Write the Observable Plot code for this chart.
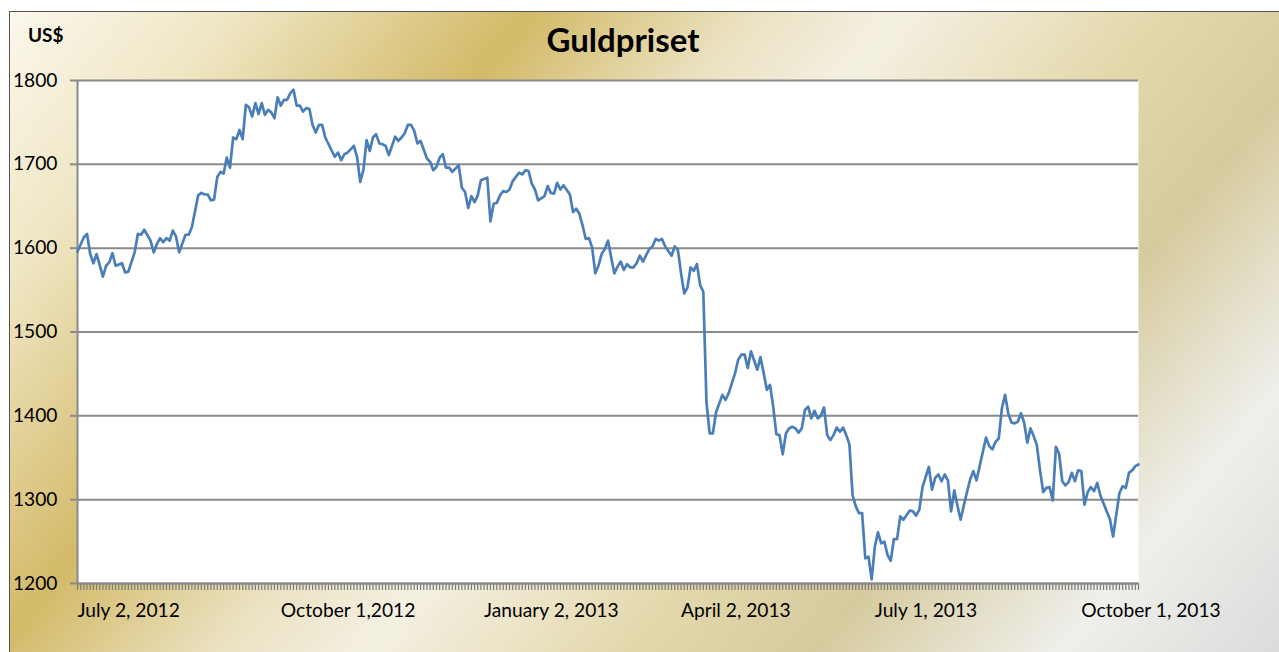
<!DOCTYPE html>
<html><head><meta charset="utf-8">
<script src="https://cdn.jsdelivr.net/npm/d3@7"></script>
<script src="https://cdn.jsdelivr.net/npm/@observablehq/plot@0.6"></script>
<style>
html,body{margin:0;padding:0;width:1279px;height:652px;overflow:hidden;background:#fff;position:relative;}
#bg{position:absolute;left:9px;top:11px;width:1300px;height:670px;border:1px solid #555;
 background:linear-gradient(130deg,#fbf8ec 0%,#efe6c4 12%,#d3ba68 28%,#ebe2c2 40%,#f4f0e2 48%,#e3d8ab 62%,#d6cb9e 72%,#efefeb 85%,#d6d6d6 100%);}
#header{position:absolute;left:0;top:0;width:1279px;height:60px;}
#title{position:absolute;left:0;width:1246px;top:21px;text-align:center;font-family:Lato,sans-serif;font-weight:bold;font-size:33px;line-height:36px;color:#000;}
#unit{position:absolute;left:28px;top:24px;font-family:Lato,sans-serif;font-weight:bold;font-size:19px;line-height:22px;color:#000;}
#chart{position:absolute;left:0;top:60px;}
</style></head>
<body>
<div id="bg"></div>
<div id="header"><div id="title">Guldpriset</div><div id="unit">US$</div></div>
<div id="chart"></div>
<script>
const days = [0,2,3,4,5,6,8,9,10,11,12,14,15,16,18,19,20,21,23,24,25,26,27,28,29,30,31,32,34,35,36,38,39,40,41,42,43,44,45,46,47,48,49,50,51,52,53,54,55,56,57,58,59,60,61,62,63,64,65,66,67,68,69,70,71,72,73,74,75,76,77,78,81,82,83,84,85,87,88,89,90,91,92,93,94,95,96,97,98,100,101,102,103,104,105,106,107,108,110,111,112,113,114,115,116,117,118,120,121,122,123,124,125,126,127,129,130,131,132,133,134,135,136,137,138,139,140,141,142,143,144,145,147,148,149,150,151,152,153,155,156,157,158,159,160,161,162,163,164,165,166,167,168,169,170,171,172,173,174,175,176,177,178,180,181,182,183,184,185,187,188,189,190,191,192,193,194,195,196,197,198,199,200,201,203,204,205,207,208,209,210,211,212,213,214,215,216,217,218,219,220,221,222,223,224,225,226,227,228,229,230,231,232,233,234,235,236,237,238,239,240,241,242,243,244,245,246,247,248,249,250,251,252,253,254,255,256,257,258,259,260,262,263,264,265,266,268,269,270,271,272,273,274,275,276,277,278,279,281,282,283,284,286,287,288,289,290,291,292,293,294,295,296,297,298,299,300,301,302,303,304,305,306,307,308,309,310,311,312,313,314,315,316,317,318,319,320,321,322,324,325,326,328,329,330,331,332,333,334];
const prices = [1596,1613,1617,1593,1582,1593,1566,1579,1583,1594,1579,1582,1571,1572,1595,1617,1616,1622,1609,1595,1605,1612,1607,1612,1609,1621,1614,1595,1616,1616,1625,1663,1666,1664,1664,1657,1658,1685,1691,1689,1708,1696,1732,1730,1741,1730,1771,1768,1757,1773,1760,1773,1759,1765,1762,1755,1780,1770,1777,1777,1785,1789,1770,1770,1763,1767,1766,1747,1738,1747,1747,1732,1709,1714,1705,1712,1714,1722,1709,1679,1693,1729,1716,1732,1736,1725,1724,1722,1711,1733,1728,1732,1737,1747,1747,1740,1725,1728,1707,1703,1693,1697,1708,1712,1696,1696,1691,1699,1672,1667,1648,1662,1655,1663,1681,1684,1632,1653,1654,1663,1668,1667,1670,1680,1685,1690,1688,1693,1692,1677,1670,1657,1662,1674,1666,1665,1678,1670,1675,1664,1643,1647,1641,1627,1611,1612,1601,1570,1579,1593,1599,1609,1589,1570,1578,1584,1574,1581,1577,1577,1582,1591,1584,1599,1602,1611,1609,1611,1602,1591,1602,1598,1570,1546,1553,1577,1573,1581,1556,1548,1416,1379,1379,1404,1425,1419,1427,1451,1467,1473,1473,1457,1477,1466,1455,1470,1451,1431,1437,1411,1378,1377,1354,1379,1385,1387,1385,1380,1385,1407,1411,1397,1406,1397,1400,1410,1377,1371,1377,1386,1381,1386,1377,1366,1305,1292,1284,1284,1230,1232,1205,1244,1261,1248,1250,1234,1227,1253,1253,1280,1276,1287,1286,1281,1288,1315,1339,1312,1326,1330,1322,1330,1323,1286,1311,1293,1276,1293,1324,1334,1323,1340,1374,1364,1360,1369,1373,1409,1425,1403,1392,1391,1393,1403,1392,1368,1385,1376,1365,1335,1309,1314,1315,1299,1363,1355,1322,1317,1321,1332,1322,1335,1334,1294,1309,1315,1310,1320,1305,1286,1277,1256,1308,1316,1314,1332,1335,1340,1342];
const yTicks = [1200,1300,1400,1500,1600,1700,1800];
const labelDays = [0,64,128,190,251,316];
const labelTexts = ["July 2, 2012","October 1,2012","January 2, 2013","April 2, 2013","July 1, 2013","October 1, 2013"];
const lastDay = 334;

const table = days.map((d,i)=>({day:d, price:prices[i]}));
const labelMap = new Map(labelDays.map((d,i)=>[d,labelTexts[i]]));
const grid = "#8a8a8a";

const chart = Plot.plot({
  width:1279, height:592,
  marginLeft:77, marginRight:141, marginTop:20, marginBottom:69,
  x:{domain:[0,lastDay]},
  y:{domain:[1200,1800]},
  style:{background:"transparent", fontFamily:"Lato, sans-serif", fontSize:"19.2px", color:"#000", overflow:"visible"},
  marks:[
    Plot.frame({fill:"white", stroke:null}),
    Plot.ruleY(yTicks.slice(1), {stroke:grid, strokeWidth:2}),
    Plot.axisY({ticks:yTicks, tickSize:7, tickPadding:13, stroke:grid, strokeWidth:2, label:null, tickFormat:d=>String(d)}),
    Plot.axisX({ticks:d3.range(0,lastDay+1), tickSize:7, tickFormat:()=>"", stroke:"#7a7a7a", strokeWidth:1.2, label:null}),
    Plot.axisX({ticks:labelDays, tickSize:0, tickPadding:20, textAnchor:"start", tickFormat:d=>labelMap.get(d), label:null}),
    Plot.ruleX([0], {stroke:grid, strokeWidth:2}),
    Plot.ruleY([1200], {stroke:grid, strokeWidth:2.5}),
    Plot.line(table, {x:"day", y:"price", stroke:"#4a7ebb", strokeWidth:2.7})
  ]
});
document.getElementById("chart").appendChild(chart);
</script>
</body></html>
